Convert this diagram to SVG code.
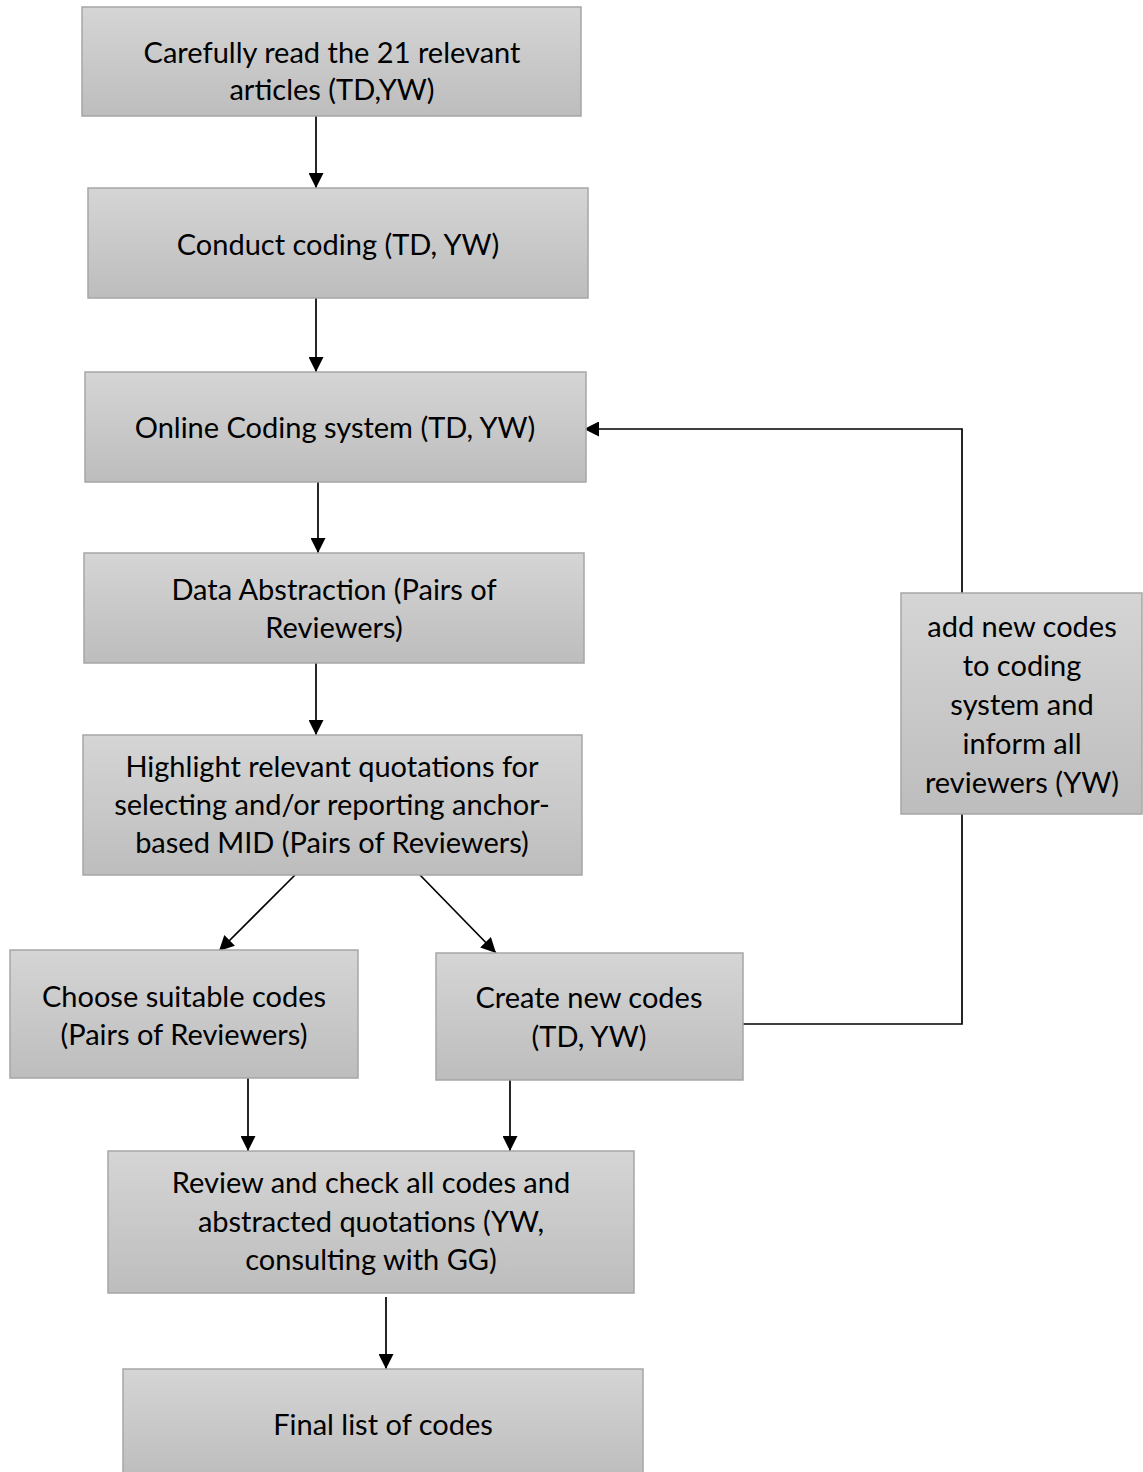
<svg xmlns="http://www.w3.org/2000/svg" width="1143" height="1472" viewBox="0 0 1143 1472">
<style>
.box{fill:url(#g);stroke:#a6a6a6;stroke-width:1.5}
.t{font-family:Lato,"Open Sans","Liberation Sans",sans-serif;font-size:29px;fill:#000;text-anchor:middle}
.c{fill:none;stroke:#000;stroke-width:1.7}
</style>
<defs>
<linearGradient id="g" x1="0" y1="0" x2="0" y2="1">
<stop offset="0" stop-color="#d5d5d5"/>
<stop offset="1" stop-color="#bdbdbd"/>
</linearGradient>
<marker id="a" markerUnits="userSpaceOnUse" markerWidth="16" markerHeight="15" refX="15" refY="7.5" orient="auto">
<path d="M0,0 L15,7.5 L0,15 Z" fill="#000"/>
</marker>
</defs>
<rect width="1143" height="1472" fill="#fff"/>
<g id="connectors">
<line class="c" x1="316" y1="116" x2="316" y2="188" marker-end="url(#a)"/>
<line class="c" x1="316" y1="298" x2="316" y2="372" marker-end="url(#a)"/>
<line class="c" x1="318" y1="482" x2="318" y2="553" marker-end="url(#a)"/>
<line class="c" x1="316" y1="663" x2="316" y2="735" marker-end="url(#a)"/>
<line class="c" x1="295" y1="875" x2="219" y2="951" marker-end="url(#a)"/>
<line class="c" x1="420" y1="875" x2="496" y2="953" marker-end="url(#a)"/>
<line class="c" x1="248" y1="1078" x2="248" y2="1151" marker-end="url(#a)"/>
<line class="c" x1="510" y1="1080" x2="510" y2="1151" marker-end="url(#a)"/>
<line class="c" x1="386" y1="1297" x2="386" y2="1369" marker-end="url(#a)"/>
<polyline class="c" points="743,1024 962,1024 962,814"/>
<polyline class="c" points="962,593 962,429 584,429" marker-end="url(#a)"/>
</g>
<g id="n1">
<rect class="box" x="82" y="7" width="499" height="109"/>
<text class="t" x="332" y="63">Carefully read the 21 relevant</text>
<text class="t" x="332" y="100">articles (TD,YW)</text>
</g>
<g id="n2">
<rect class="box" x="88" y="188" width="500" height="110"/>
<text class="t" x="338" y="255">Conduct coding (TD, YW)</text>
</g>
<g id="n3">
<rect class="box" x="85" y="372" width="501" height="110"/>
<text class="t" x="335" y="438">Online Coding system (TD, YW)</text>
</g>
<g id="n4">
<rect class="box" x="84" y="553" width="500" height="110"/>
<text class="t" x="334" y="600">Data Abstraction (Pairs of</text>
<text class="t" x="334" y="638">Reviewers)</text>
</g>
<g id="n5">
<rect class="box" x="83" y="735" width="499" height="140"/>
<text class="t" x="332" y="777">Highlight relevant quotations for</text>
<text class="t" x="332" y="815">selecting and/or reporting anchor-</text>
<text class="t" x="332" y="853">based MID (Pairs of Reviewers)</text>
</g>
<g id="n6">
<rect class="box" x="10" y="950" width="348" height="128"/>
<text class="t" x="184" y="1007">Choose suitable codes</text>
<text class="t" x="184" y="1045">(Pairs of Reviewers)</text>
</g>
<g id="n7">
<rect class="box" x="436" y="953" width="307" height="127"/>
<text class="t" x="589" y="1008">Create new codes</text>
<text class="t" x="589" y="1047">(TD, YW)</text>
</g>
<g id="n8">
<rect class="box" x="901" y="593" width="241" height="221"/>
<text class="t" x="1022" y="637">add new codes</text>
<text class="t" x="1022" y="676">to coding</text>
<text class="t" x="1022" y="715">system and</text>
<text class="t" x="1022" y="754">inform all</text>
<text class="t" x="1022" y="793">reviewers (YW)</text>
</g>
<g id="n9">
<rect class="box" x="108" y="1151" width="526" height="142"/>
<text class="t" x="371" y="1193">Review and check all codes and</text>
<text class="t" x="371" y="1232">abstracted quotations (YW,</text>
<text class="t" x="371" y="1270">consulting with GG)</text>
</g>
<g id="n10">
<rect class="box" x="123" y="1369" width="520" height="110"/>
<text class="t" x="383" y="1435">Final list of codes</text>
</g>
</svg>
